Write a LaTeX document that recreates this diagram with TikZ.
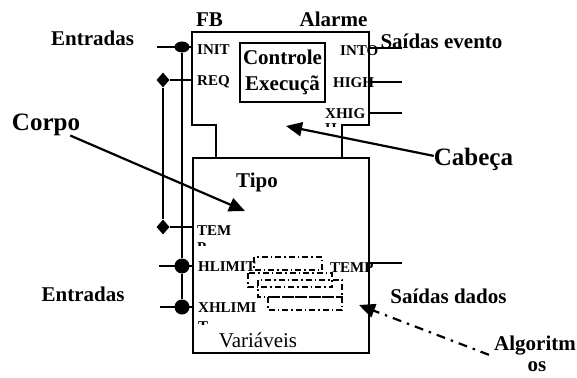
\documentclass[tikz,border=0pt]{standalone}
\usepackage{fontspec}
\setmainfont{Liberation Serif}
\usetikzlibrary{shapes.geometric,arrows.meta,positioning,calc}
\begin{document}
\begin{tikzpicture}[x=1pt,y=-1pt,
        caixa/.style={draw,line width=1.5pt},
        rot/.style={font=\fontsize{21}{21}\selectfont\bfseries,inner sep=0pt,anchor=base},
        tit/.style={font=\fontsize{25}{25}\selectfont\bfseries,inner sep=0pt,anchor=base},
        porta/.style={font=\fontsize{15}{15}\selectfont\bfseries,inner sep=0pt,anchor=base west},
        fio/.style={line width=1.5pt},
        barra/.style={line width=2.4pt},
        seta/.style={line width=2.2pt,-{Triangle[length=16pt,width=14pt]}},
        traco/.style={line width=1.1pt,dash pattern=on 6pt off 3pt on 1.5pt off 3pt},
        tracoseta/.style={line width=2.2pt,dash pattern=on 9pt off 6pt on 2.5pt off 6pt},
        evt/.style={ellipse,fill,inner sep=0pt,minimum width=15pt,minimum height=11pt},
        dado/.style={circle,fill,inner sep=0pt,minimum size=15pt},
        junc/.style={diamond,fill,inner sep=0pt,minimum width=13pt,minimum height=15pt}]
        \useasboundingbox (0,0) rectangle (577,377);
        \draw[caixa] (216,158) -- (216,125) -- (192,125) -- (192,32) -- (369,32)
          -- (369,125) -- (342,125) -- (342,158);
        \node[caixa,minimum width=176pt,minimum height=195pt,inner sep=0pt] (corpo) at (281,255.5) {};
        \node[caixa,minimum width=85pt,minimum height=59pt,inner sep=0pt,align=center,
              font=\fontsize{21}{26}\selectfont\bfseries] (ctrl) at (282.5,72.5) {Controle\\Execuçã};
        \coordinate (cabW) at (192,0);
        % rotulos
        \node[rot] (fb)     at (209.5,27) {FB};
        \node[rot] (alarme) at (333.5,27) {Alarme};
        \node[rot] (entEv)  at (92.5,46)  {Entradas};
        \node[rot] (saiEv)  at (441.5,49) {Saídas evento};
        \node[rot] (entDd)  at (83,301)   {Entradas};
        \node[rot] (saiDd)  at (448.5,303) {Saídas dados};
        \node[rot] (tipo)   at (257,187)  {Tipo};
        \node[rot,font=\fontsize{21}{21}\selectfont] (vars) at (258,347) {Variáveis};
        \node[rot] (alg)    at (535,350)  {Algoritm};
        \node[rot] (alg2)   at (537,371)  {os};
        \node[tit] (corpoTxt) at (46,130)  {Corpo};
        \node[tit] (cabTxt)   at (473.5,165) {Cabeça};
        % portas
        \node[porta] (init)  at (197,55)  {INIT};
        \node[porta] (req)   at (197,85)  {REQ};
        \node[porta] (tem)   at (197,235) {TEM};
        \node[porta] (hlim)  at (198,271) {HLIMIT};
        \node[porta] (xhlim) at (198,312) {XHLIMI};
        \node[porta] (into)  at (340,56)  {INTO};
        \node[porta] (high)  at (333,88)  {HIGH};
        \node[porta] (xhig)  at (325,118) {XHIG};
        \node[porta] (temp)  at (330,272) {TEMP};
        \foreach \px/\py/\lim/\ltr in {197/252/245.5/P,325/133/126/H,198/331/324/T}{
          \begin{scope}
            \clip (\px-2,\lim-8) rectangle (\px+20,\lim);
            \node[porta] (resto\ltr) at (\px,\py) {\ltr};
          \end{scope}}
        % ligacoes de entrada
        \node[evt]  (evInit) at (182,47)  {};
        \node[junc] (jReq)   at (163,80)  {};
        \node[junc] (jTem)   at (163,227) {};
        \node[dado] (dHl)    at (182,266) {};
        \node[dado] (dXhl)   at (182,307) {};
        \coordinate (inInit) at (157,47);
        \coordinate (inHl)   at (159,266);
        \coordinate (inXhl)  at (160,307);
        \draw[barra] (evInit) -- (dHl) -- (dXhl);
        \draw[barra] (jReq) -- (jTem);
        \draw[fio] (inInit) -- (evInit -| cabW);
        \draw[fio] (jReq) -- (jReq -| cabW);
        \draw[fio] (jTem) -- (jTem -| corpo.west);
        \draw[fio] (inHl) -- (dHl -| corpo.west);
        \draw[fio] (inXhl) -- (dXhl -| corpo.west);
        % saidas
        \coordinate (oInt)  at (402,48);
        \coordinate (oHigh) at (402,82);
        \coordinate (oXhig) at (402,113);
        \coordinate (oTemp) at (402,263);
        \foreach \o in {oInt,oHigh,oXhig,oTemp}
          \draw[fio] (\o -| corpo.east) -- (\o);
        % algoritmos
        \foreach \a/\b/\c/\d in {254/257/322/270,248/273/332/287,258/280/342/297,268/297/342/310}
          \draw[traco] (\a,\b) rectangle (\c,\d);
        % setas
        \coordinate (alvoCorpo) at (245,211);
        \coordinate (alvoCab)   at (286,126);
        \coordinate (alvoAlg)   at (359,305);
        \draw[seta] ([xshift=-10pt]corpoTxt.south east) -- (alvoCorpo);
        \draw[seta] ([yshift=3pt]cabTxt.west) -- (alvoCab);
        \draw[seta,tracoseta] ([xshift=-5pt]alg.south west) -- (alvoAlg);
\end{tikzpicture}
\end{document}
